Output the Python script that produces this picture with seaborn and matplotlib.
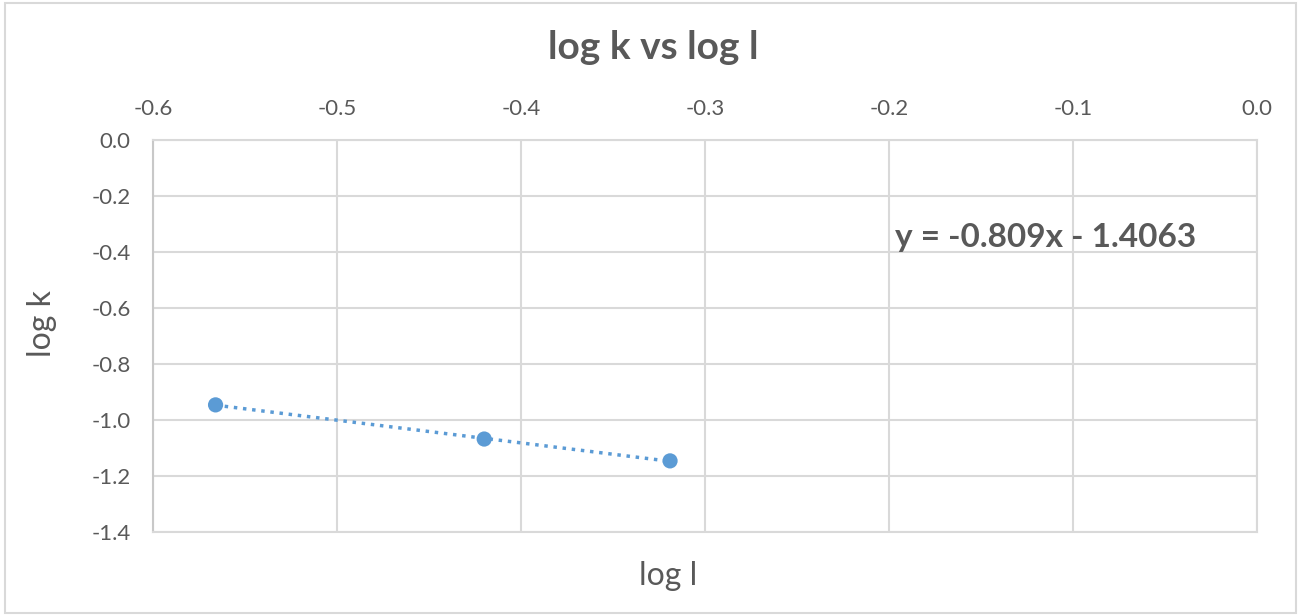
import numpy as np
import pandas as pd
import matplotlib.pyplot as plt
import seaborn as sns
from matplotlib.patches import Rectangle

# Data
log_l = [-0.566, -0.420, -0.319]
log_k = [-0.946, -1.068, -1.146]
equation = "y = -0.809x - 1.4063"
x_ticks = [-0.6, -0.5, -0.4, -0.3, -0.2, -0.1, 0.0]
y_ticks = [0.0, -0.2, -0.4, -0.6, -0.8, -1.0, -1.2, -1.4]

df = pd.DataFrame({'log l': log_l, 'log k': log_k})

sns.set_style('white')
plt.rcParams['font.family'] = ['Lato', 'DejaVu Sans']

text_color = '#595959'
grid_color = '#d9d9d9'
blue = '#5b9bd5'

fig = plt.figure(figsize=(12.99, 6.15), dpi=100)
ax = fig.add_axes([153 / 1299, 83 / 615, 1104 / 1299, 392 / 615])

# Dotted linear trendline, then the markers
sns.regplot(data=df, x='log l', y='log k', scatter=False, ci=None, ax=ax,
            line_kws={'color': blue, 'linestyle': ':', 'linewidth': 2.5})
sns.scatterplot(data=df, x='log l', y='log k', ax=ax, color=blue, s=120,
                edgecolor='none', zorder=5)

ax.set_xlim(-0.6, 0.0)
ax.set_ylim(-1.4, 0.0)
ax.set_xticks(x_ticks)
ax.set_yticks(y_ticks)
ax.set_xticklabels([f'{t:.1f}' for t in x_ticks])
ax.set_yticklabels([f'{t:.1f}' for t in y_ticks])

# x tick labels on top (axis crosses at 0), axis title at the bottom
ax.xaxis.tick_top()
ax.xaxis.set_label_position('bottom')
ax.tick_params(axis='both', length=0, labelsize=16, colors=text_color)
ax.tick_params(axis='x', pad=15)
ax.tick_params(axis='y', pad=16)

ax.grid(True, color=grid_color, linewidth=1.5)
ax.set_axisbelow(True)
for side in ax.spines.values():
    side.set_color(grid_color)
    side.set_linewidth(1.5)
ax.spines['left'].set_color('#c8c8c8')

ax.set_xlabel('log l', fontsize=23, color=text_color)
ax.set_ylabel('log k', fontsize=23, color=text_color)
ax.xaxis.set_label_coords((668 - 153) / 1104, -0.075)
ax.yaxis.set_label_coords(-0.087, 0.531)

ax.text(-0.197, -0.35, equation, fontsize=24, fontweight='bold',
        color=text_color, ha='left', va='center')

fig.text(0.503, 0.922, 'log k vs log l', fontsize=28, fontweight='bold',
         color=text_color, ha='center', va='center')

# Outer chart border
fig.patches.append(Rectangle((5 / 1299, 2 / 615), 1291 / 1299, 610 / 615,
                             transform=fig.transFigure, fill=False,
                             edgecolor=grid_color, linewidth=1.5))

fig.savefig('out.png', dpi=100)
